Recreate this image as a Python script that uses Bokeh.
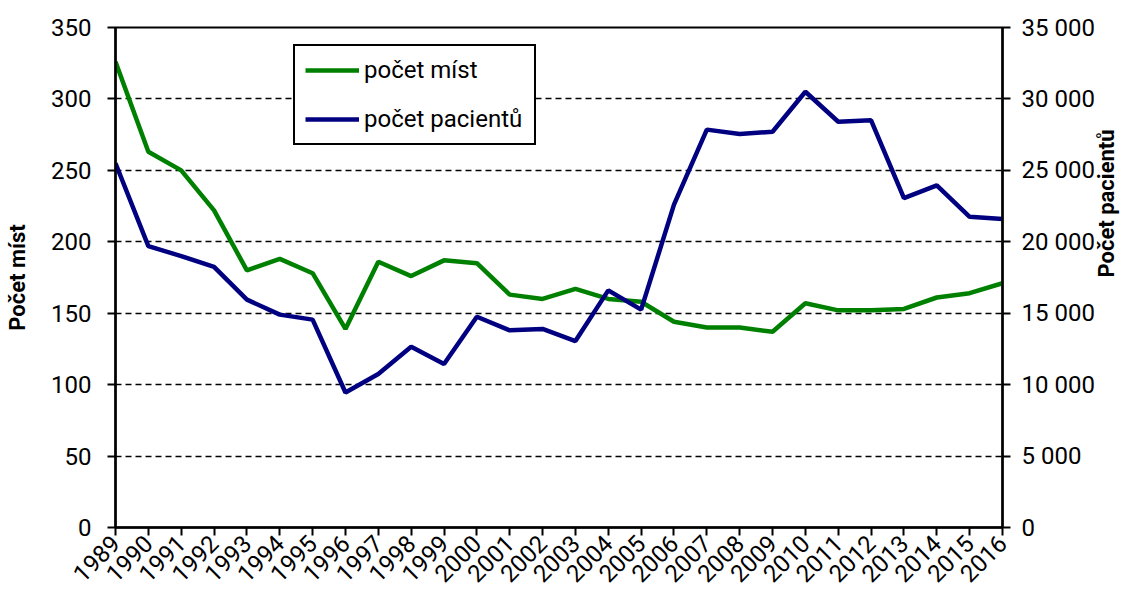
from bokeh.plotting import figure
from bokeh.models import Range1d, LinearAxis, FixedTicker, Legend, LegendItem
from bokeh.embed import file_html
from bokeh.resources import INLINE
import math

years = list(range(1989, 2017))
mista = [326, 263, 250, 222, 180, 188, 178, 139, 186, 176, 187, 185, 163, 160,
         167, 160, 158, 144, 140, 140, 137, 157, 152, 152, 153, 161, 164, 171]
pacienti = [25500, 19700, 19000, 18250, 15950, 14900, 14550, 9450, 10750, 12650,
            11450, 14750, 13800, 13900, 13050, 16600, 15250, 22600, 27850, 27550,
            27700, 30500, 28400, 28500, 23050, 23950, 21750, 21600]
left_ticks = [0, 50, 100, 150, 200, 250, 300, 350]
right_ticks = [0, 5000, 10000, 15000, 20000, 25000, 30000, 35000]
right_labels = ["0", "5 000", "10 000", "15 000", "20 000", "25 000", "30 000", "35 000"]

FONT = "Roboto"
FS = "24px"
LFS = "22px"
GREEN = "#008000"
NAVY = "#000080"

p = figure(width=1134, height=592, output_backend="svg", toolbar_location=None,
           x_range=Range1d(1989, 2016), y_range=Range1d(0, 350),
           min_border_left=115, min_border_right=132, min_border_top=27,
           min_border_bottom=64)
p.extra_y_ranges = {"pat": Range1d(0, 35000)}
p.outline_line_color = "black"
p.outline_line_width = 2
p.background_fill_color = "white"
p.border_fill_color = "white"

l1 = p.line(years, mista, line_color=GREEN, line_width=4.5)
l2 = p.line(years, pacienti, line_color=NAVY, line_width=4.5, y_range_name="pat")

rax = LinearAxis(y_range_name="pat", ticker=FixedTicker(ticks=right_ticks))
rax.major_label_overrides = {t: s for t, s in zip(right_ticks, right_labels)}
p.add_layout(rax, "right")

for ax in [p.xaxis[0], p.yaxis[0], rax]:
    ax.axis_line_width = 2.5
    ax.axis_line_color = "black"
    ax.major_tick_line_width = 2
    ax.major_tick_line_color = "black"
    ax.major_tick_in = 0
    ax.major_tick_out = 8
    ax.minor_tick_line_color = None
    ax.major_label_text_font = FONT
    ax.major_label_text_font_size = FS
    ax.major_label_text_color = "black"
    ax.axis_label_text_font = FONT
    ax.axis_label_text_font_style = "bold"
    ax.axis_label_text_font_size = LFS
    ax.axis_label_text_color = "black"

p.xaxis[0].ticker = FixedTicker(ticks=years)
p.xaxis[0].major_label_orientation = math.pi / 4
p.xaxis[0].major_label_standoff = 4

p.yaxis[0].ticker = FixedTicker(ticks=left_ticks)
p.yaxis[0].major_label_standoff = 16
p.yaxis[0].axis_label = "Počet míst"
p.yaxis[0].axis_label_standoff = 18

rax.major_label_standoff = 11
rax.axis_label = "Počet pacientů"
rax.axis_label_standoff = 9
rax.axis_label_orientation = math.pi / 2

p.xgrid.grid_line_color = None
p.ygrid.ticker = FixedTicker(ticks=left_ticks[1:-1])
p.ygrid.grid_line_color = "black"
p.ygrid.grid_line_width = 1.5
p.ygrid.grid_line_dash = "6 4"

legend = Legend(items=[LegendItem(label="počet míst", renderers=[l1]),
                       LegendItem(label="počet pacientů", renderers=[l2])],
                location=(178, 382), orientation="vertical",
                padding=10, spacing=21, margin=0,
                glyph_width=54, glyph_height=28, label_height=28, label_width=160,
                label_standoff=5,
                label_text_font=FONT, label_text_font_size=FS,
                label_text_color="black",
                border_line_color="black", border_line_width=2,
                border_line_alpha=1.0,
                background_fill_color="white", background_fill_alpha=1)
p.add_layout(legend, "center")

open("out.html", "w").write(file_html(p, INLINE))
